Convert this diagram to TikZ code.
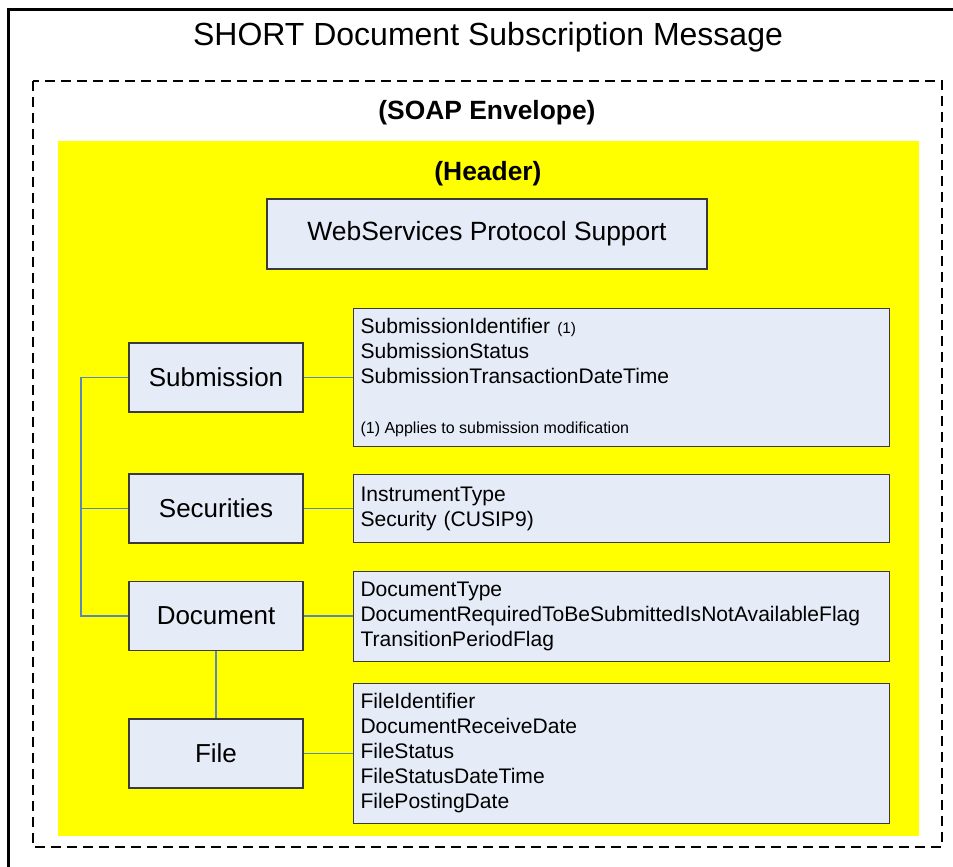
\documentclass[tikz,border=0pt]{standalone}
\usepackage{fontspec}
\setmainfont{Liberation Sans}
\definecolor{boxfill}{HTML}{E6ECF7}
\definecolor{boxline}{HTML}{3A3A3A}
\definecolor{conncol}{HTML}{5A88BE}
\definecolor{hdryellow}{HTML}{FFFF00}
\tikzset{
  titletext/.style={font=\fontsize{24}{28}\selectfont, inner sep=0pt},
  boldtext/.style={font=\fontsize{19.8}{23}\selectfont\bfseries, inner sep=0pt},
  entity/.style={draw=boxline, fill=boxfill, line width=0.8pt, inner sep=0pt,
    minimum width=130.5pt, minimum height=51.75pt, font=\fontsize{19.5}{23}\selectfont},
  detail/.style={draw=boxline, fill=boxfill, line width=0.8pt, anchor=north west,
    inner xsep=5.25pt, inner ysep=0pt, text width=391.5pt, align=left,
    font=\fontsize{15.8}{18.75}\selectfont},
  conn/.style={draw=conncol, line width=0.85pt},
}
\begin{document}
\begin{tikzpicture}[x=0.75pt, y=-0.75pt]
\useasboundingbox (0,0) rectangle (953,867);
\begin{scope}
\clip (0,0) rectangle (953,867);
% outer frame
\draw[line width=2.25pt, black] (8.5,9.5) rectangle (980,900);
\end{scope}
\node[titletext] (title) at (488,37) {SHORT Document Subscription Message};
% SOAP envelope
\draw[line width=1.15pt, dash pattern=on 7.5pt off 4.5pt] (33,81) rectangle (942,847);
\node[boldtext] (soap) at (487,113) {(SOAP Envelope)};
% header
\fill[hdryellow] (58,141) rectangle (919,836);
\node[boldtext] (header) at (488,174) {(Header)};
\node[entity, minimum width=330pt, minimum height=52.5pt, font=\fontsize{19.8}{23}\selectfont] (wsp) at (487,234) {WebServices Protocol Support};
% entities
\node[entity] (sub) at (216,377.5) {Submission};
\node[entity] (sec) at (216,508.5) {Securities};
\node[entity] (doc) at (216,616) {Document};
\node[entity] (file) at (216,753.5) {File};
% details
\node[detail, minimum height=103.5pt] (subd) at (353,308) {SubmissionIdentifier {\fontsize{11.5}{12}\selectfont\spaceskip=0pt (1)}\\
SubmissionStatus\\
SubmissionTransactionDateTime\\[18.75pt]
{\fontsize{12}{18.75}\selectfont\spaceskip=0pt\xspaceskip=0pt (1) Applies to submission modification}};
\node[detail, minimum height=51pt] (secd) at (353,474) {InstrumentType\\
Security (CUSIP9)};
\node[detail, minimum height=67.5pt] (docd) at (353,571) {DocumentType\\
DocumentRequiredToBeSubmittedIsNotAvailableFlag\\
TransitionPeriodFlag};
\node[detail, minimum height=105pt] (filed) at (353,683) {FileIdentifier\\
DocumentReceiveDate\\
FileStatus\\
FileStatusDateTime\\
FilePostingDate};
% connectors
\coordinate (bus) at (81,500);
\draw[conn] (sub.west) -- (sub.west -| bus) -- (doc.west -| bus) -- (doc.west);
\draw[conn] (sec.west) -- (sec.west -| bus);
\draw[conn] (sub.east) -- (sub.east -| subd.west);
\draw[conn] (sec.east) -- (sec.east -| secd.west);
\draw[conn] (doc.east) -- (doc.east -| docd.west);
\draw[conn] (file.east) -- (file.east -| filed.west);
\draw[conn] (doc.south) -- (file.north);
\end{tikzpicture}
\end{document}
